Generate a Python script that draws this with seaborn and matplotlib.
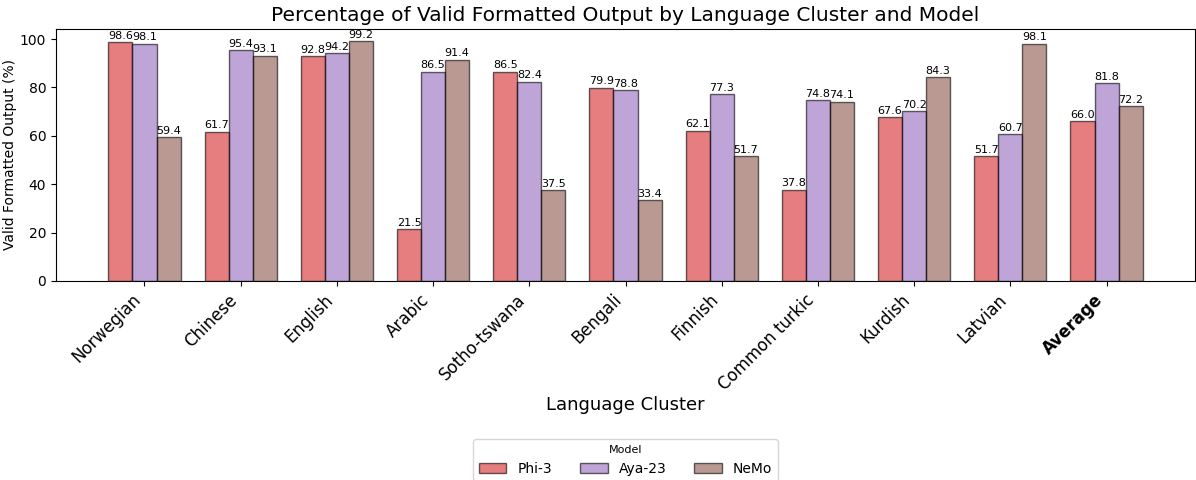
import pandas as pd
import matplotlib
matplotlib.use("Agg")
import matplotlib.pyplot as plt
import seaborn as sns

# Dados
clusters = ["Norwegian", "Chinese", "English", "Arabic", "Sotho-tswana", "Bengali",
            "Finnish", "Common turkic", "Kurdish", "Latvian", "Average"]
modelos = ["Phi-3", "Aya-23", "NeMo"]
phi3 = [98.6, 61.7, 92.8, 21.5, 86.5, 79.9, 62.1, 37.8, 67.6, 51.7, 66.0]
aya23 = [98.1, 95.4, 94.2, 86.5, 82.4, 78.8, 77.3, 74.8, 70.2, 60.7, 81.8]
nemo = [59.4, 93.1, 99.2, 91.4, 37.5, 33.4, 51.7, 74.1, 84.3, 98.1, 72.2]
cores = ["tab:red", "tab:purple", "tab:brown"]

df = pd.DataFrame({"Language Cluster": clusters, "Phi-3": phi3, "Aya-23": aya23, "NeMo": nemo})
df = df.melt(id_vars="Language Cluster", var_name="Model", value_name="Valid")

fig, ax = plt.subplots(figsize=(11.96, 4.8), dpi=100)
fig.subplots_adjust(left=0.0468, right=0.9992, bottom=0.4146, top=0.9396)

sns.barplot(data=df, x="Language Cluster", y="Valid", hue="Model", hue_order=modelos,
            palette=cores, saturation=1, alpha=0.6, edgecolor="black", linewidth=1.0,
            width=0.75, errorbar=None, ax=ax)

for cont in ax.containers:
    ax.bar_label(cont, fmt="%.1f", fontsize=8, padding=1)

ax.set_xlim(-0.92, 10.92)
ax.set_title("Percentage of Valid Formatted Output by Language Cluster and Model", fontsize=14.5)
ax.set_xlabel("Language Cluster", fontsize=13, labelpad=2)
ax.set_ylabel("Valid Formatted Output (%)", fontsize=10, labelpad=2)
plt.xticks(rotation=45, ha="right", fontsize=12)
ax.get_xticklabels()[-1].set_fontweight("bold")

ax.legend(title="Model", loc="upper center", bbox_to_anchor=(0.523, 0.085),
          bbox_transform=fig.transFigure, borderaxespad=0, ncol=3, fontsize=10,
          title_fontsize=8, columnspacing=2.0)

plt.savefig("out.png", dpi=100)
